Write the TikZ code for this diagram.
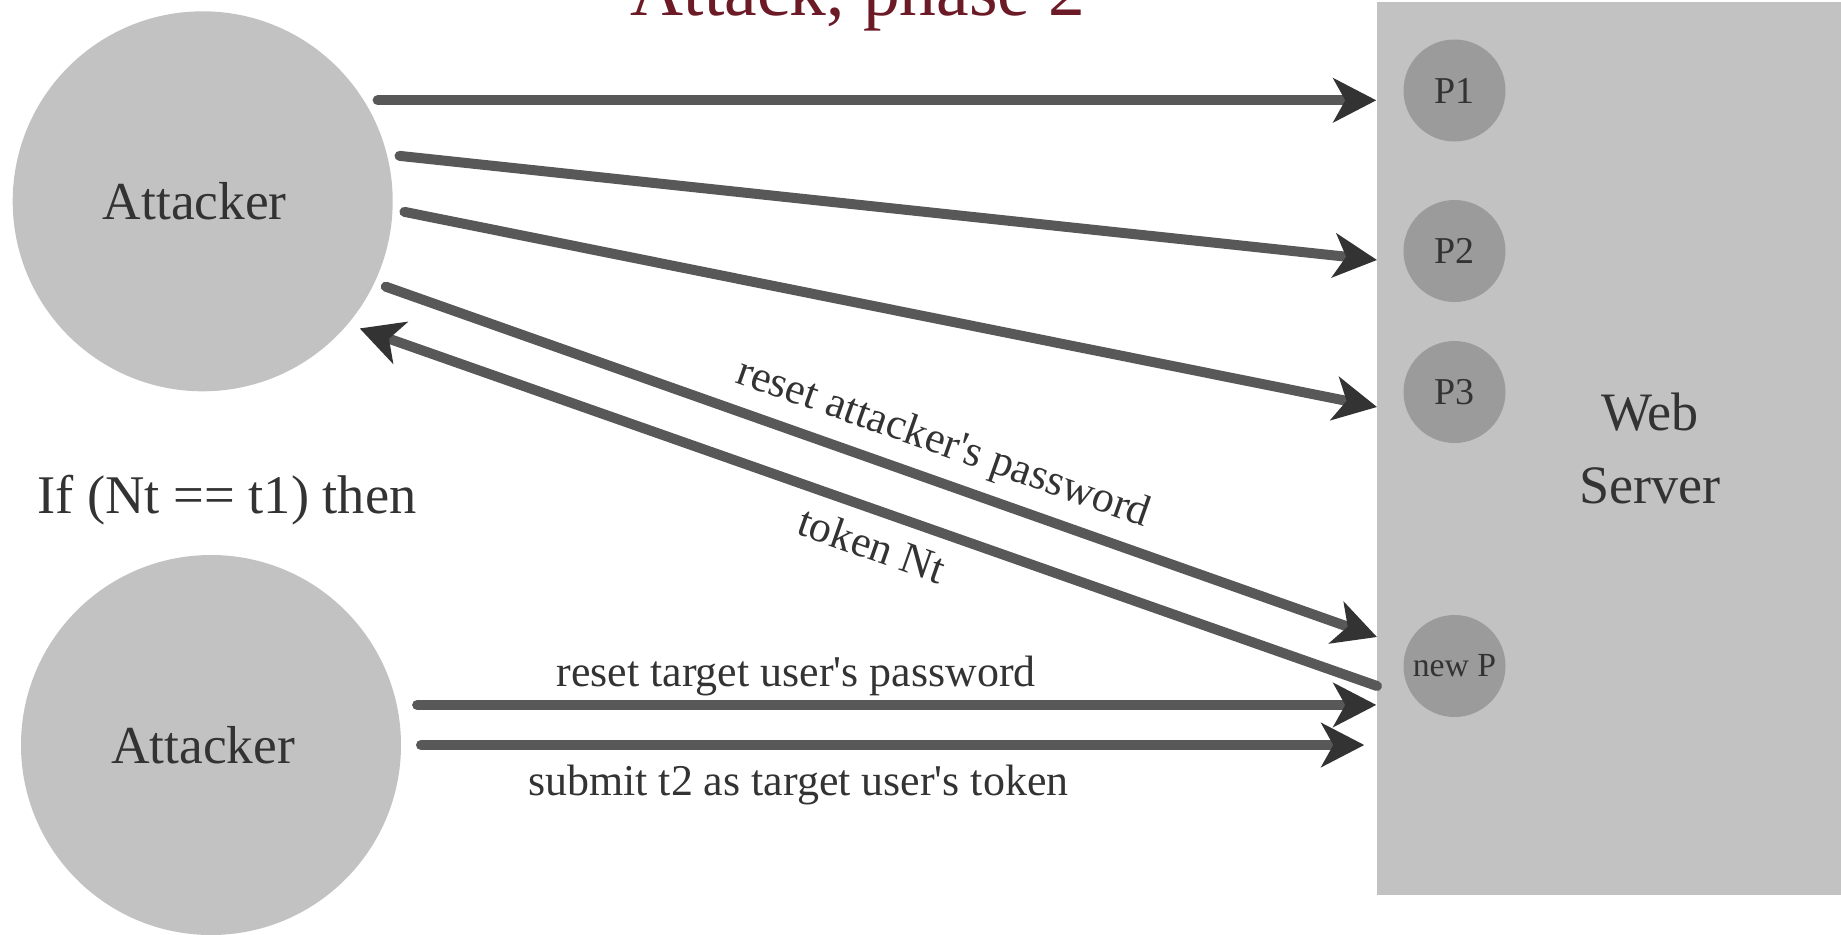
\documentclass[tikz,border=0pt]{standalone}
\usepackage{fontspec}
\setmainfont{Liberation Serif}
\usetikzlibrary{arrows.meta}
\definecolor{circgray}{HTML}{C2C2C2}
\definecolor{pgray}{HTML}{9B9B9B}
\definecolor{inkgray}{HTML}{333333}
\definecolor{linegray}{HTML}{585858}
\definecolor{titlered}{HTML}{6B1A26}
\begin{document}
\begin{tikzpicture}[agent/.style={circle,fill=circgray,minimum size=3.8cm,inner sep=0,outer sep=0.12cm,text=inkgray,font=\fontsize{15.2}{18}\selectfont,execute at end node=\hspace{0.16cm}}]
		\tikzstyle{pnode}=[circle,fill=pgray,minimum size=1.02cm,inner sep=0,text=inkgray,font=\fontsize{10.8}{12}\selectfont]
		\tikzstyle{server}=[rectangle,fill=circgray,minimum width=5.46cm,minimum height=8.93cm,align=center,text=inkgray,font=\fontsize{15.4}{20.8}\selectfont]
		\tikzstyle{msg}=[draw=linegray,line width=0.1cm,line cap=round,-{Stealth[length=0.43cm,width=0.44cm,inset=0.12cm,color=inkgray]}]
		\tikzstyle{reply}=[draw=linegray,line width=0.1cm,line cap=round,{Stealth[length=0.43cm,width=0.44cm,inset=0.12cm,color=inkgray]}-]
		\tikzstyle{lbl}=[text=inkgray,font=\fontsize{12.5}{14}\selectfont]
		\useasboundingbox (0,0) rectangle (18.41,-9.35);
		\node[server] (srv) at (16.5,-4.485) {Web\\Server};
		\node[agent] (a1) at (2.027,-2.013) {Attacker};
		\node[agent,outer sep=0.2cm] (a2) at (2.11,-7.45) {Attacker};
		\node[pnode] (p1) at (14.545,-0.905) {P1};
		\node[pnode] (p2) at (14.545,-2.51) {P2};
		\node[pnode] (p3) at (14.545,-3.92) {P3};
		\node[pnode,font=\fontsize{9.6}{11}\selectfont] (pn) at (14.545,-6.66) {new P};
		\node[anchor=base,text=titlered,font=\fontsize{20.9}{24}\selectfont] (title) at (8.58,-0.15) {Attack, phase 2};
		\node[anchor=base,lbl,font=\fontsize{15.5}{18}\selectfont] (cond) at (2.27,-5.13) {If (Nt == t1) then};
		\coordinate (in2) at (13.77,-2.6);
		\coordinate (in3) at (13.77,-4.07);
		\coordinate (in4) at (13.77,-6.37);
		\coordinate (out) at (13.77,-6.86);
		\path[msg] (a1.30) -- (a1.30 -| srv.west);
		\path[msg] (a1.13) -- (in2);
		\path[msg] (a1.-3) -- (in3);
		\path[msg] (a1.-25) -- node[lbl,above,sloped,pos=0.55] {reset attacker\textquotesingle s password} (in4);
		\path[reply] (a1.-39) -- node[lbl,below,sloped,pos=0.515,yshift=-0.02cm] {token Nt} (out);
		\path[msg] (a2.11) -- node[lbl,above,pos=0.395,yshift=-0.08cm] {reset target user\textquotesingle s password} (a2.11 -| srv.west);
		\path[msg,shorten >=0.12cm] (a2.east) -- node[lbl,below,pos=0.395,yshift=-0.03cm] {submit t2 as target user\textquotesingle s token} (a2.east -| srv.west);
\end{tikzpicture}
\end{document}
